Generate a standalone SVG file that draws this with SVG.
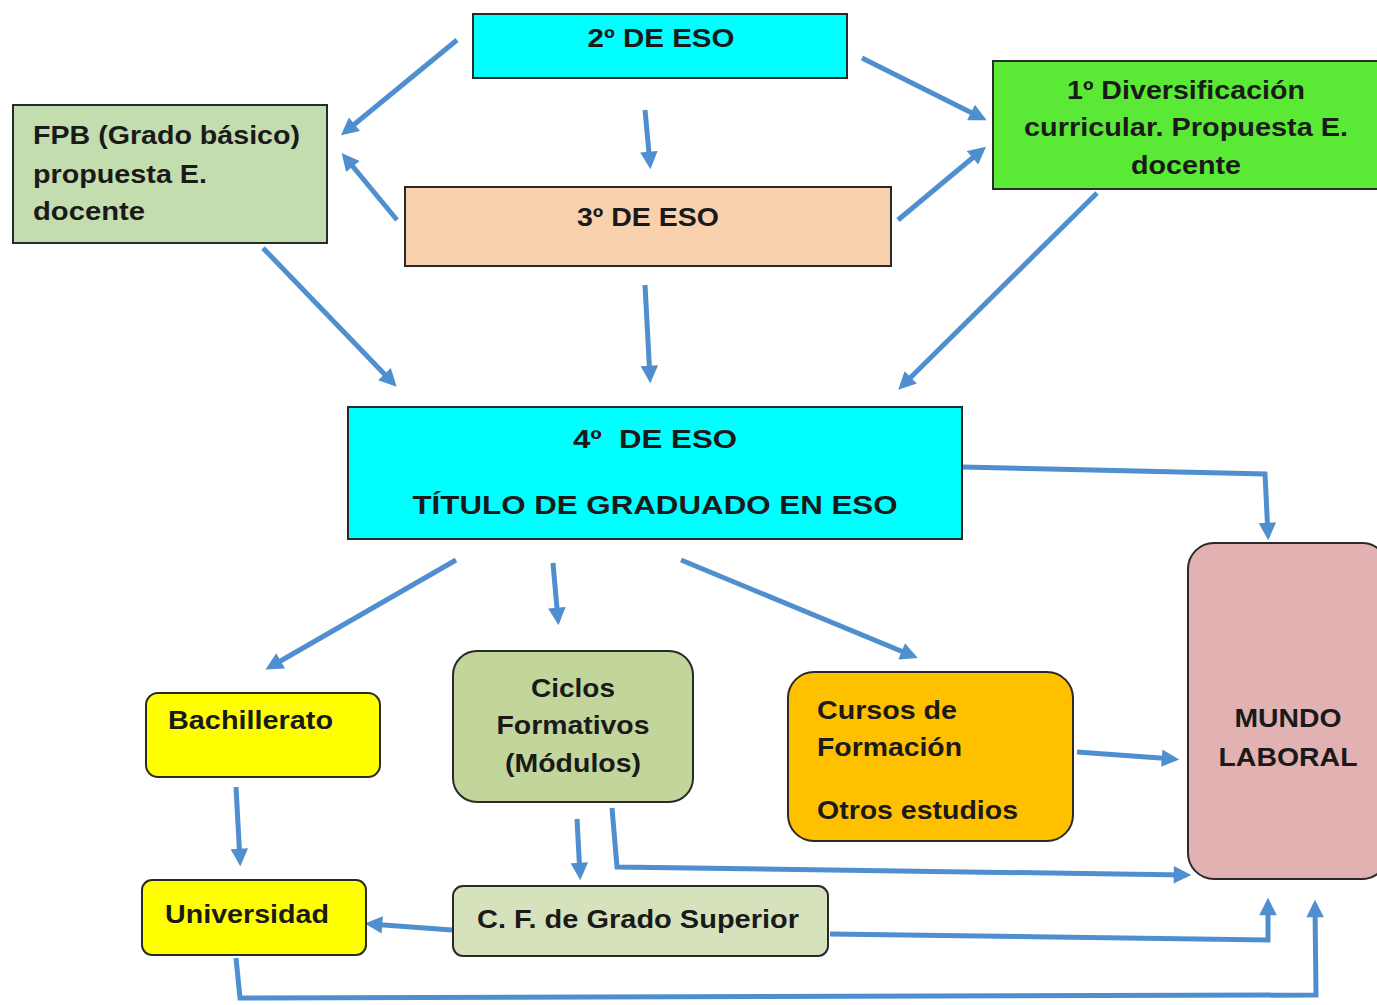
<svg xmlns="http://www.w3.org/2000/svg" width="1377" height="1005" viewBox="0 0 1377 1005">
<defs>
<marker id="ah" viewBox="0 0 10 10" refX="7" refY="5" markerWidth="3.8" markerHeight="3.5" orient="auto">
<path d="M0,0 L10,5 L0,10 z" fill="#4F8FD0"/>
</marker>
<style>
.t{font-family:"Liberation Sans",Arial,sans-serif;font-weight:bold;font-size:26px;fill:#1a1a1a}
.b{stroke:#2a2a2a;stroke-width:2}
.c{fill:none;stroke:#4F8FD0;stroke-width:5;marker-end:url(#ah)}
</style>
</defs>
<rect width="1377" height="1005" fill="#ffffff"/>
<g id="connectors">
<line class="c" x1="457" y1="40" x2="345" y2="132"/>
<line class="c" x1="645" y1="110" x2="650" y2="164"/>
<line class="c" x1="862" y1="58" x2="982" y2="118"/>
<line class="c" x1="397" y1="220" x2="345" y2="157"/>
<line class="c" x1="898" y1="220" x2="982" y2="150"/>
<line class="c" x1="263" y1="248" x2="393" y2="383"/>
<line class="c" x1="645" y1="285" x2="650" y2="378"/>
<line class="c" x1="1097" y1="193" x2="902" y2="386"/>
<polyline class="c" points="962,467 1265,474 1268,535"/>
<line class="c" x1="456" y1="560" x2="270" y2="667"/>
<line class="c" x1="553" y1="563" x2="558" y2="620"/>
<line class="c" x1="681" y1="560" x2="913" y2="656"/>
<line class="c" x1="1077" y1="752" x2="1174" y2="759"/>
<line class="c" x1="236" y1="787" x2="240" y2="861"/>
<line class="c" x1="577" y1="819" x2="580" y2="875"/>
<polyline class="c" points="612,808 617,867 1186,875"/>
<line class="c" x1="452" y1="930" x2="370" y2="924"/>
<polyline class="c" points="830,934 1268,940 1268,903"/>
<polyline class="c" points="236,958 240,998 1316,995 1315,905"/>
</g>
<g id="n2eso">
<rect class="b" x="473" y="14" width="374" height="64" fill="#00FFFF"/>
<text class="t" x="661" y="47" text-anchor="middle" textLength="147" lengthAdjust="spacingAndGlyphs">2º DE ESO</text>
</g>
<g id="nfpb">
<rect class="b" x="13" y="105" width="314" height="138" fill="#C4DDAE"/>
<text class="t" x="33" y="144" textLength="267" lengthAdjust="spacingAndGlyphs">FPB (Grado básico)</text>
<text class="t" x="33" y="183" textLength="174" lengthAdjust="spacingAndGlyphs">propuesta E.</text>
<text class="t" x="33" y="220" textLength="112" lengthAdjust="spacingAndGlyphs">docente</text>
</g>
<g id="n3eso">
<rect class="b" x="405" y="187" width="486" height="79" fill="#FAD1AE"/>
<text class="t" x="648" y="226" text-anchor="middle" textLength="142" lengthAdjust="spacingAndGlyphs">3º DE ESO</text>
</g>
<g id="ndiv">
<rect class="b" x="993" y="61" width="386" height="128" fill="#5AEA36"/>
<text class="t" x="1186" y="99" text-anchor="middle" textLength="238" lengthAdjust="spacingAndGlyphs">1º Diversificación</text>
<text class="t" x="1186" y="136" text-anchor="middle" textLength="324" lengthAdjust="spacingAndGlyphs">curricular. Propuesta E.</text>
<text class="t" x="1186" y="174" text-anchor="middle" textLength="110" lengthAdjust="spacingAndGlyphs">docente</text>
</g>
<g id="n4eso">
<rect class="b" x="348" y="407" width="614" height="132" fill="#00FFFF"/>
<text class="t" x="655" y="448" text-anchor="middle" textLength="164" lengthAdjust="spacingAndGlyphs" xml:space="preserve">4º  DE ESO</text>
<text class="t" x="655" y="514" text-anchor="middle" textLength="485" lengthAdjust="spacingAndGlyphs">TÍTULO DE GRADUADO EN ESO</text>
</g>
<g id="nbach">
<rect class="b" x="146" y="693" width="234" height="84" rx="12" fill="#FFFF00"/>
<text class="t" x="168" y="729" textLength="165" lengthAdjust="spacingAndGlyphs">Bachillerato</text>
</g>
<g id="nciclos">
<rect class="b" x="453" y="651" width="240" height="151" rx="24" fill="#C2D59A"/>
<text class="t" x="573" y="697" text-anchor="middle" textLength="84" lengthAdjust="spacingAndGlyphs">Ciclos</text>
<text class="t" x="573" y="734" text-anchor="middle" textLength="153" lengthAdjust="spacingAndGlyphs">Formativos</text>
<text class="t" x="573" y="772" text-anchor="middle" textLength="136" lengthAdjust="spacingAndGlyphs">(Módulos)</text>
</g>
<g id="ncursos">
<rect class="b" x="788" y="672" width="285" height="169" rx="26" fill="#FFC000"/>
<text class="t" x="817" y="719" textLength="140" lengthAdjust="spacingAndGlyphs">Cursos de</text>
<text class="t" x="817" y="756" textLength="145" lengthAdjust="spacingAndGlyphs">Formación</text>
<text class="t" x="817" y="819" textLength="201" lengthAdjust="spacingAndGlyphs">Otros estudios</text>
</g>
<g id="nmundo">
<rect class="b" x="1188" y="543" width="200" height="336" rx="26" fill="#E2B2B2"/>
<text class="t" x="1288" y="727" text-anchor="middle" textLength="107" lengthAdjust="spacingAndGlyphs">MUNDO</text>
<text class="t" x="1288" y="766" text-anchor="middle" textLength="139" lengthAdjust="spacingAndGlyphs">LABORAL</text>
</g>
<g id="nuni">
<rect class="b" x="142" y="880" width="224" height="75" rx="10" fill="#FFFF00"/>
<text class="t" x="165" y="923" textLength="164" lengthAdjust="spacingAndGlyphs">Universidad</text>
</g>
<g id="ncfgs">
<rect class="b" x="453" y="886" width="375" height="70" rx="10" fill="#D6E2BC"/>
<text class="t" x="477" y="928" textLength="322" lengthAdjust="spacingAndGlyphs">C. F. de Grado Superior</text>
</g>
</svg>
